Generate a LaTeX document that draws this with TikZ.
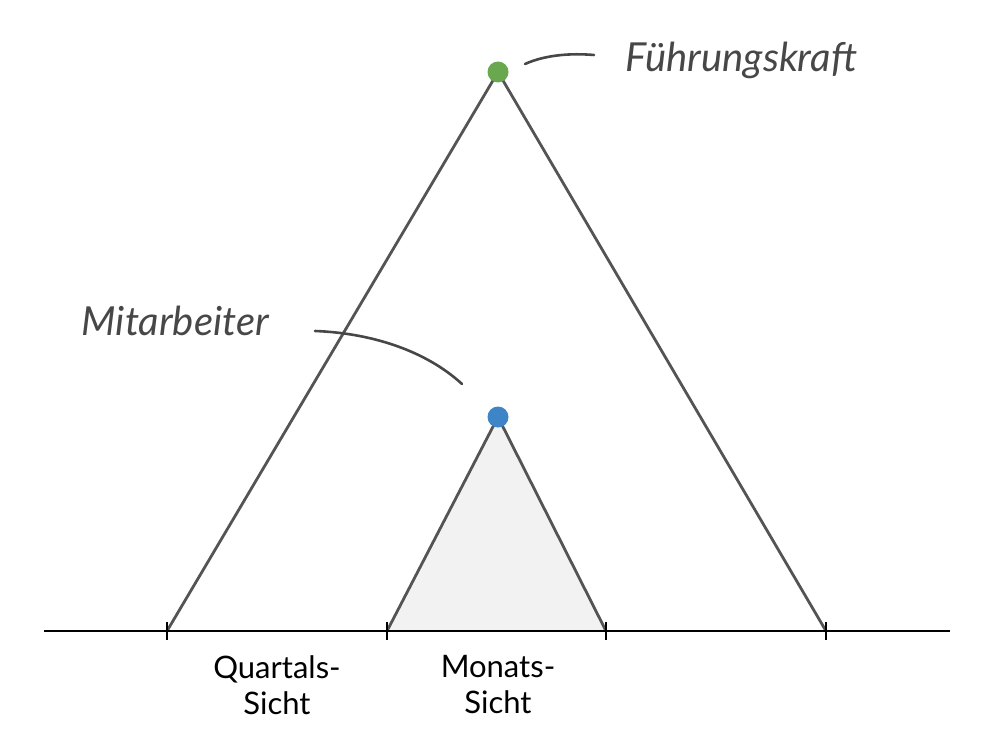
\documentclass[tikz,border=0pt]{standalone}
\usepackage{fontspec}
\usetikzlibrary{calc}
\setmainfont{Lato}
\newfontfamily\handfont{Lato}
\begin{document}
\begin{tikzpicture}[x=1pt,y=-1pt,
  edge/.style={draw=black!67, line width=2.8pt, line join=round},
  axis/.style={draw=black, line width=2.8pt},
  tick/.style={draw=black, line width=2.2pt},
  dot/.style={circle, minimum size=21pt, inner sep=0pt},
  hand/.style={font=\handfont\itshape\fontsize{40}{46}\selectfont, text=black!72},
  lbl/.style={font=\fontsize{31}{36}\selectfont, align=center, text=black},
  conn/.style={draw=black!72, line width=2.6pt, line cap=round}]
\useasboundingbox (0,0) rectangle (998,746);
% coordinates
\coordinate (A) at (498,72);
\coordinate (B) at (498,417);
\coordinate (t1) at (167,631);
\coordinate (t2) at (387,631);
\coordinate (t3) at (606,631);
\coordinate (t4) at (826,631);
\coordinate (axL) at (44,631);
\coordinate (axR) at (950,631);
% small triangle
\fill[black!5] (B) -- (t2) -- (t3) -- cycle;
% triangles
\draw[edge] (t1) -- (A) -- (t4);
\draw[edge] (t2) -- (B) -- (t3);
% axis
\draw[axis] (axL) -- (axR);
\foreach \t in {t1,t2,t3,t4}
  \draw[tick] ($(\t)+(0,-9)$) -- ($(\t)+(0,9)$);
% dots
\node[dot, fill={rgb,255:red,106;green,168;blue,79}] (dA) at (A) {};
\node[dot, fill={rgb,255:red,61;green,133;blue,198}] (dB) at (B) {};
% labels
\node[hand, anchor=base west] (lf) at (622,72) {Führungskraft};
\node[hand, anchor=base west] (lm) at (78,335) {Mitarbeiter};
\coordinate (cf1) at (525,64);
\coordinate (cf2) at (594,55);
\draw[conn] (cf1) .. controls (545,55) and (570,53) .. (cf2);
\coordinate (cm1) at (315,331);
\coordinate (cm2) at (462,384);
\draw[conn] (cm1) .. controls (370,333) and (425,350) .. (cm2);
\node[lbl] (q) at (277,685) {Quartals-\\Sicht};
\node[lbl] (m) at (498,685) {Monats-\\Sicht};
\end{tikzpicture}
\end{document}
